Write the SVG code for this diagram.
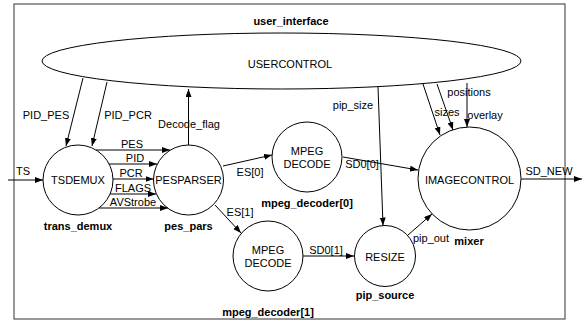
<svg xmlns="http://www.w3.org/2000/svg" width="582" height="322" viewBox="0 0 582 322">
<style>
text{font-family:"Liberation Sans",Arial,sans-serif;font-size:11px;fill:#000;text-anchor:middle}
.b{font-weight:bold}
.n{fill:#fff;stroke:#000;stroke-width:1}
.c{fill:none;stroke:#000;stroke-width:1;marker-end:url(#ah)}
.l{fill:none;stroke:#000;stroke-width:1}
</style>
<defs>
<marker id="ah" markerUnits="userSpaceOnUse" markerWidth="8" markerHeight="6" refX="8" refY="3" orient="auto">
<path d="M0,0 L8,3 L0,6 z" fill="#000"/>
</marker>
</defs>
<rect x="0" y="0" width="582" height="322" fill="#fff"/>
<g id="user_interface">
<rect x="14" y="4" width="551" height="315" fill="none" stroke="#333" stroke-width="1"/>
<text class="b" x="291" y="25">user_interface</text>
</g>
<g id="USERCONTROL">
<ellipse class="n" cx="281.5" cy="61" rx="239.5" ry="28"/>
<text x="290" y="68">USERCONTROL</text>
</g>
<g id="trans_demux">
<circle class="n" cx="78" cy="180" r="35"/>
<text x="78" y="184">TSDEMUX</text>
<text class="b" x="78" y="230">trans_demux</text>
</g>
<g id="pes_pars">
<circle class="n" cx="188.5" cy="180" r="35"/>
<text x="188.5" y="184">PESPARSER</text>
<text class="b" x="188.5" y="230">pes_pars</text>
</g>
<g id="mpeg_decoder0">
<circle class="n" cx="307" cy="157" r="35"/>
<text x="307" y="155">MPEG</text>
<text x="307" y="168">DECODE</text>
<text class="b" x="307" y="207">mpeg_decoder[0]</text>
</g>
<g id="mpeg_decoder1">
<circle class="n" cx="268" cy="256" r="35"/>
<text x="268" y="254">MPEG</text>
<text x="268" y="267">DECODE</text>
<text class="b" x="268" y="316">mpeg_decoder[1]</text>
</g>
<g id="pip_source">
<circle class="n" cx="385" cy="256" r="30.5"/>
<text x="385" y="261">RESIZE</text>
<text class="b" x="385" y="299">pip_source</text>
</g>
<g id="mixer">
<circle class="n" cx="469.5" cy="178.5" r="51.5"/>
<text x="469.5" y="184">IMAGECONTROL</text>
<text class="b" x="469" y="245">mixer</text>
</g>
<g id="connectors">
<path class="c" d="M8,180 L43,180"/>
<text x="23" y="175">TS</text>
<path class="c" d="M83,78 L66,146"/>
<text x="46" y="119">PID_PES</text>
<path class="c" d="M107,82 L92,146"/>
<text x="128" y="119">PID_PCR</text>
<path class="c" d="M188.5,145 L188.5,89"/>
<text x="189" y="128">Decode_flag</text>
<path class="c" d="M96,150 L170,150"/>
<text x="132" y="148">PES</text>
<path class="c" d="M109,164 L157,164"/>
<text x="135" y="162">PID</text>
<path class="c" d="M113,179 L153.5,179"/>
<text x="131" y="177">PCR</text>
<path class="c" d="M110,194 L156,194"/>
<text x="133" y="192">FLAGS</text>
<path class="c" d="M99,208 L168,208"/>
<text x="133" y="206">AVStrobe</text>
<path class="c" d="M223,166 L272,155"/>
<text x="250" y="176">ES[0]</text>
<path class="c" d="M215,205 L241,233"/>
<text x="240" y="216">ES[1]</text>
<path class="c" d="M343,157 L418,170"/>
<text x="362" y="168">SD0[0]</text>
<path class="c" d="M303,256 L354,256"/>
<text x="326" y="254">SD0[1]</text>
<path class="c" d="M378,87 L383,225.5"/>
<text x="353" y="109">pip_size</text>
<path class="c" d="M408,235 L432,214"/>
<text x="431" y="242">pip_out</text>
<path class="c" d="M423,84 L440,135"/>
<text x="447" y="116">sizes</text>
<path class="c" d="M437,84 L453,130"/>
<text x="469" y="96">positions</text>
<path class="c" d="M467,83 L467,127"/>
<text x="485" y="119">overlay</text>
<path class="c" d="M521,179 L582,179"/>
<text x="549" y="175">SD_NEW</text>
</g>
</svg>
